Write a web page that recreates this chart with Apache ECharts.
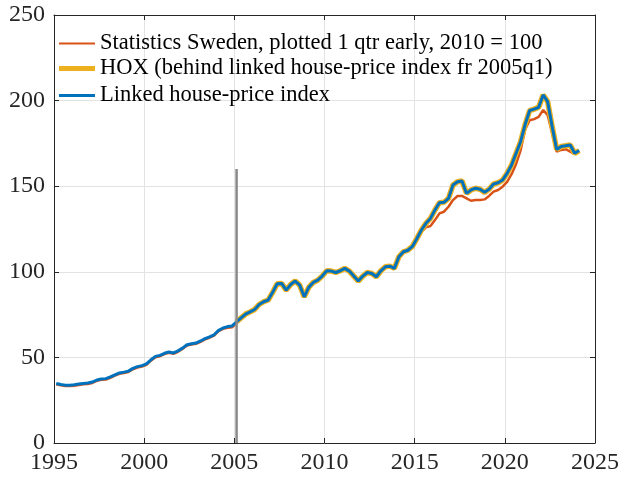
<!DOCTYPE html>
<html>
<head>
<meta charset="utf-8">
<script src="https://cdn.jsdelivr.net/npm/echarts@6/dist/echarts.min.js"></script>
<style>
  html, body { margin: 0; padding: 0; background: #fff; }
  #chart { width: 622px; height: 479px; }
</style>
</head>
<body>
<div id="chart"></div>
<script>
// Quarterly house-price indices, first quarter 1995q1, plotted at mid-quarter.
const startYear = 1995;

// Linked house-price index, 1995q1 .. 2024q1
const linkedIndex = [
  34.8, 34.2, 33.8, 33.8,
  34.0, 34.4, 34.8, 35.0,
  35.6, 36.8, 37.4, 37.6,
  38.6, 39.8, 40.9, 41.4,
  42.0, 43.6, 44.6, 45.2,
  46.2, 48.6, 50.6, 51.2,
  52.4, 53.2, 52.6, 53.8,
  55.4, 57.4, 58.0, 58.4,
  59.6, 61.0, 62.0, 63.2,
  65.8, 67.2, 68.0, 68.4,
  70.8, 73.1, 75.3, 76.6,
  78.0, 80.9, 82.5, 83.5,
  88.0, 93.0, 93.2, 89.3,
  92.6, 94.6, 92.2, 85.4,
  90.9, 93.8, 95.1, 97.5,
  100.6, 100.4, 99.6, 100.6,
  102.0, 100.4, 97.5, 94.6,
  97.5, 99.6, 99.0, 97.1,
  100.6, 102.9, 103.3, 102.0,
  108.8, 111.7, 112.6, 114.8,
  119.5, 124.4, 128.3, 131.2,
  136.1, 140.4, 140.6, 142.9,
  150.7, 152.6, 153.0, 145.8,
  147.8, 148.8, 148.2, 146.4,
  148.2, 151.3, 152.0, 153.6,
  157.5, 162.4, 169.2, 176.0,
  186.0, 194.2, 195.0, 196.1,
  203.3, 199.4, 184.8, 171.4,
  173.2, 173.6, 174.1, 169.2,
  170.8
];

// Statistics Sweden index (2010 = 100), plotted one quarter early, 1995q1 .. 2023q4
const statSweden = [
  34.3, 33.7, 33.3, 33.3,
  33.5, 33.9, 34.3, 34.5,
  35.1, 36.3, 36.9, 37.1,
  38.1, 39.3, 40.4, 40.9,
  41.5, 43.1, 44.1, 44.7,
  45.7, 48.1, 50.1, 50.7,
  51.9, 52.7, 52.1, 53.3,
  54.9, 56.9, 57.5, 57.9,
  59.1, 60.5, 61.5, 62.7,
  65.3, 66.7, 67.3, 67.6,
  70.0, 72.5, 74.8, 76.2,
  77.6, 80.5, 82.1, 83.1,
  87.4, 92.2, 92.4, 88.6,
  92.0, 93.9, 91.4, 85.0,
  90.4, 93.4, 94.8, 97.2,
  100.2, 100.0, 99.2, 100.2,
  101.6, 100.0, 97.1, 94.2,
  97.1, 99.2, 98.6, 96.7,
  100.2, 102.5, 103.0, 101.6,
  108.4, 111.3, 112.2, 114.3,
  119.0, 123.4, 126.0, 126.7,
  130.2, 134.1, 135.1, 138.0,
  141.9, 144.3, 144.3, 142.9,
  141.5, 141.9, 141.9, 142.3,
  144.3, 146.8, 147.8, 149.7,
  152.5, 157.0, 163.0, 171.0,
  183.0, 188.5, 189.2, 190.5,
  194.5, 191.5, 181.0, 170.2,
  171.2, 171.6, 170.2, 168.8
];

// HOX index: the linked index is built on it from 2005q1 (40 quarters after start)
const hoxStartIndex = 40;
const hoxIndex = linkedIndex.slice(hoxStartIndex);

// Marker for the 2005q1 link point
const linkYear = 2005.125;
const linkMarkerTop = 160;

const xTicks = [1995, 2000, 2005, 2010, 2015, 2020, 2025];
const yTicks = [0, 50, 100, 150, 200, 250];

const seriesNames = [
  'Statistics Sweden, plotted 1 qtr early, 2010 = 100',
  'HOX (behind linked house-price index fr 2005q1)',
  'Linked house-price index'
];

function quarterTime(i) { return startYear + (i + 0.5) / 4; }
function toPairs(values, offset) {
  return values.map((v, i) => [quarterTime(i + offset), v]);
}

const serif = '"Liberation Serif", "DejaVu Serif", serif';
const axisColor = '#262626';
const gridColor = '#e3e3e3';

const chart = echarts.init(document.getElementById('chart'), null, { renderer: 'canvas' });

const xAxisBase = {
  type: 'value',
  min: xTicks[0],
  max: xTicks[xTicks.length - 1],
  interval: 5,
  axisLine: { show: true, onZero: false, lineStyle: { color: axisColor, width: 1 } },
  axisTick: { show: true, inside: true, length: 5, lineStyle: { color: axisColor } }
};
const yAxisBase = {
  type: 'value',
  min: yTicks[0],
  max: yTicks[yTicks.length - 1],
  interval: 50,
  axisLine: { show: true, onZero: false, lineStyle: { color: axisColor, width: 1 } },
  axisTick: { show: true, inside: true, length: 5, lineStyle: { color: axisColor } }
};

const legendCommon = {
  left: 59,
  orient: 'vertical',
  icon: 'rect',
  itemWidth: 36,
  textStyle: { fontFamily: serif, fontSize: 22.5, color: '#000' },
  selectedMode: false,
  padding: 0
};

chart.setOption({
  animation: false,
  backgroundColor: '#fff',
  grid: { left: 54, right: 26, top: 15, bottom: 36, containLabel: false },
  legend: [
    Object.assign({}, legendCommon, { data: [seriesNames[0]], top: 32, itemHeight: 2.2 }),
    Object.assign({}, legendCommon, { data: [seriesNames[1]], top: 57, itemHeight: 5 }),
    Object.assign({}, legendCommon, { data: [seriesNames[2]], top: 84, itemHeight: 3.2 })
  ],
  xAxis: [
    Object.assign({}, xAxisBase, {
      position: 'bottom',
      axisLabel: {
        show: true, fontFamily: serif, fontSize: 24, color: axisColor, margin: 8,
        formatter: (v) => String(v)
      },
      splitLine: { show: true, lineStyle: { color: gridColor, width: 1 } }
    }),
    Object.assign({}, xAxisBase, {
      position: 'top',
      axisLabel: { show: false },
      splitLine: { show: false }
    })
  ],
  yAxis: [
    Object.assign({}, yAxisBase, {
      position: 'left',
      axisLabel: {
        show: true, fontFamily: serif, fontSize: 24, color: axisColor, margin: 9,
        formatter: (v) => String(v)
      },
      splitLine: { show: true, lineStyle: { color: gridColor, width: 1 } }
    }),
    Object.assign({}, yAxisBase, {
      position: 'right',
      axisLabel: { show: false },
      splitLine: { show: false }
    })
  ],
  series: [
    {
      name: seriesNames[0],
      type: 'line',
      data: toPairs(statSweden, 0),
      showSymbol: false,
      symbol: 'none',
      color: '#D95319',
      lineStyle: { color: '#D95319', width: 2.5 },
      z: 2
    },
    {
      name: seriesNames[1],
      type: 'line',
      data: toPairs(hoxIndex, hoxStartIndex),
      showSymbol: false,
      symbol: 'none',
      color: '#EDB120',
      lineStyle: { color: '#EDB120', width: 5.5 },
      z: 3
    },
    {
      name: seriesNames[2],
      type: 'line',
      data: toPairs(linkedIndex, 0),
      showSymbol: false,
      symbol: 'none',
      color: '#0072BD',
      lineStyle: { color: '#0072BD', width: 3 },
      z: 4
    },
    {
      name: 'link',
      type: 'line',
      data: [[linkYear, 0], [linkYear, linkMarkerTop]],
      showSymbol: false,
      symbol: 'none',
      lineStyle: { color: '#8a8a8a', width: 2.5 },
      silent: true,
      z: 5
    }
  ]
});
</script>
</body>
</html>
